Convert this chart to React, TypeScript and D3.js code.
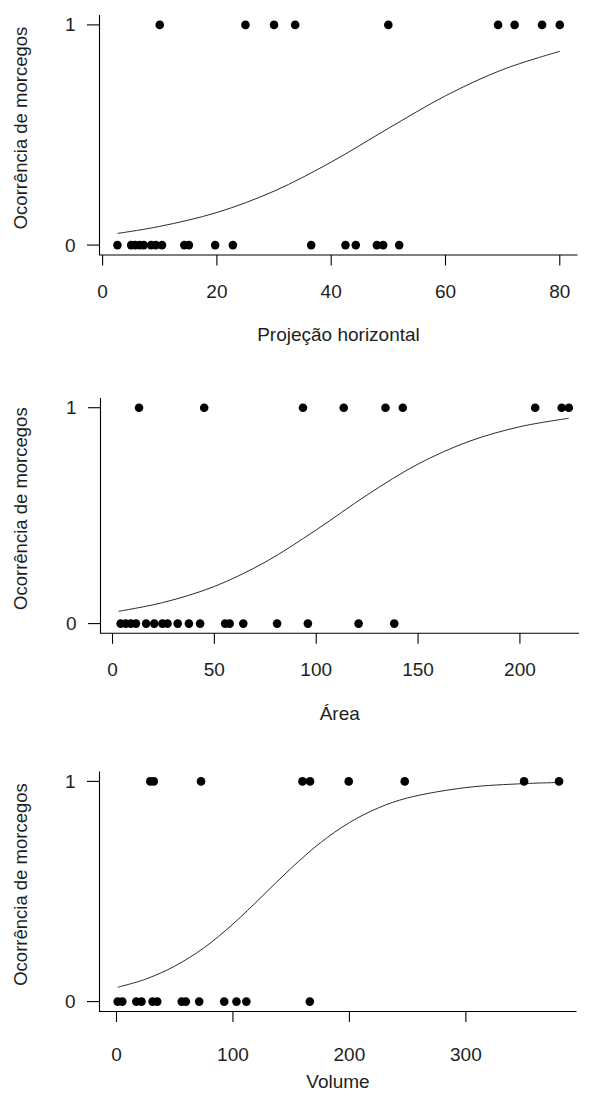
import React from "react";
import * as d3 from "d3";

// ---------- Data ----------
const yTicks = [0, 1];
const yTitle = "Ocorrência de morcegos";

// Panel 1: Projeção horizontal
const p1Title = "Projeção horizontal";
const p1Ticks = [0, 20, 40, 60, 80];
const p1Ones = [10, 25, 30, 33.7, 50, 69.2, 72.1, 76.9, 80];
const p1Zeros = [2.6, 5.0, 5.7, 6.5, 7.2, 8.5, 9.3, 10.4, 14.3, 15.1, 19.7, 22.8, 36.5, 42.5, 44.3, 48.0, 49.1, 51.9];
const p1CurveX = [2.6, 10, 20, 30, 40, 50, 60, 70, 80];
const p1CurveY = [0.053, 0.085, 0.148, 0.245, 0.377, 0.53, 0.678, 0.797, 0.88];

// Panel 2: Área
const p2Title = "Área";
const p2Ticks = [0, 50, 100, 150, 200];
const p2Ones = [13, 45, 93.5, 113.5, 134, 142.5, 207.5, 220.5, 224];
const p2Zeros = [4, 6.5, 9, 11.5, 16.5, 20.5, 24.5, 27, 32, 37.5, 43, 55.3, 57.5, 64.2, 80.8, 95.9, 120.8, 138.3];
const p2CurveX = [3, 25, 50, 75, 100, 125, 150, 175, 200, 224];
const p2CurveY = [0.057, 0.098, 0.172, 0.285, 0.434, 0.596, 0.739, 0.844, 0.912, 0.951];

// Panel 3: Volume
const p3Title = "Volume";
const p3Ticks = [0, 100, 200, 300];
const p3Ones = [29, 32, 72.6, 159.7, 166.2, 199.4, 247.5, 350, 380];
const p3Zeros = [1, 5, 17, 21.5, 31, 35, 56, 59.5, 71, 92.5, 103, 111.5, 166];
const p3CurveX = [1, 25, 50, 75, 100, 125, 150, 175, 200, 225, 250, 300, 350, 380];
const p3CurveY = [0.065, 0.102, 0.161, 0.244, 0.352, 0.478, 0.606, 0.721, 0.813, 0.88, 0.925, 0.972, 0.99, 0.995];

// ---------- Layout ----------
const W = 589;
const H = 1102;
const FONT = "'Liberation Sans', Arial, sans-serif";
const TEXT = "#1e1e1e";
const Y_DOMAIN: [number, number] = [-0.045, 1.045];

const panels = [
  { title: p1Title, ticks: p1Ticks, ones: p1Ones, zeros: p1Zeros, cx: p1CurveX, cy: p1CurveY,
    xDomain: [-0.54, 83.1], left: 99.5, right: 577.5, top: 15, bottom: 255, tickLabelY: 291, titleY: 334 },
  { title: p2Title, ticks: p2Ticks, ones: p2Ones, zeros: p2Zeros, cx: p2CurveX, cy: p2CurveY,
    xDomain: [-5.9, 229], left: 100.5, right: 579, top: 398, bottom: 633.3, tickLabelY: 669, titleY: 713 },
  { title: p3Title, ticks: p3Ticks, ones: p3Ones, zeros: p3Zeros, cx: p3CurveX, cy: p3CurveY,
    xDomain: [-14.6, 395], left: 99.5, right: 576.5, top: 771.5, bottom: 1011.5, tickLabelY: 1054, titleY: 1081 },
];

function Panel({ p }: { p: typeof panels[number] }) {
  const x = d3.scaleLinear().domain(p.xDomain as [number, number]).range([p.left, p.right]);
  const y = d3.scaleLinear().domain(Y_DOMAIN).range([p.bottom, p.top]);
  const curveData = p.cx.map((v, i) => [v, p.cy[i]] as [number, number]);
  const line = d3
    .line<[number, number]>()
    .x((d) => x(d[0]))
    .y((d) => y(d[1]))
    .curve(d3.curveCatmullRom.alpha(0.5));
  const r = 4.3;
  return (
    <g>
      {/* L-shaped box */}
      <path d={`M${p.left},${p.top}V${p.bottom}H${p.right}`} fill="none" stroke="#000" strokeWidth={1.1} />
      {/* y ticks */}
      {yTicks.map((t) => (
        <g key={"y" + t}>
          <line x1={p.left - 12.5} x2={p.left} y1={y(t)} y2={y(t)} stroke="#000" strokeWidth={1.1} />
          <text x={p.left - 24} y={y(t)} textAnchor="end" dominantBaseline="central"
            fontFamily={FONT} fontSize={19} fill={TEXT}>{t}</text>
        </g>
      ))}
      {/* x ticks */}
      {p.ticks.map((t) => (
        <g key={"x" + t}>
          <line x1={x(t)} x2={x(t)} y1={p.bottom} y2={p.bottom + 10.5} stroke="#000" strokeWidth={1.1} />
          <text x={x(t)} y={p.tickLabelY} textAnchor="middle" dominantBaseline="central"
            fontFamily={FONT} fontSize={19} fill={TEXT}>{t}</text>
        </g>
      ))}
      {/* fitted curve */}
      <path d={line(curveData) || ""} fill="none" stroke="#2a2a2a" strokeWidth={1} />
      {/* points */}
      {p.ones.map((v, i) => (
        <circle key={"o" + i} cx={x(v)} cy={y(1)} r={r} fill="#000" />
      ))}
      {p.zeros.map((v, i) => (
        <circle key={"z" + i} cx={x(v)} cy={y(0)} r={r} fill="#000" />
      ))}
      {/* titles */}
      <text x={(p.left + p.right) / 2} y={p.titleY} textAnchor="middle" dominantBaseline="central"
        fontFamily={FONT} fontSize={19} fill={TEXT}>{p.title}</text>
      <text transform={`translate(20,${(p.top + p.bottom) / 2 - 7}) rotate(-90)`} textAnchor="middle"
        dominantBaseline="central" fontFamily={FONT} fontSize={18.5} fill={TEXT}>{yTitle}</text>
    </g>
  );
}

export default function App() {
  return (
    <svg width={W} height={H} viewBox={`0 0 ${W} ${H}`}
      style={{ position: "absolute", left: 0, top: 0, background: "#fff" }}>
      <rect x={0} y={0} width={W} height={H} fill="#fff" />
      {panels.map((p, i) => (
        <Panel key={i} p={p} />
      ))}
    </svg>
  );
}
